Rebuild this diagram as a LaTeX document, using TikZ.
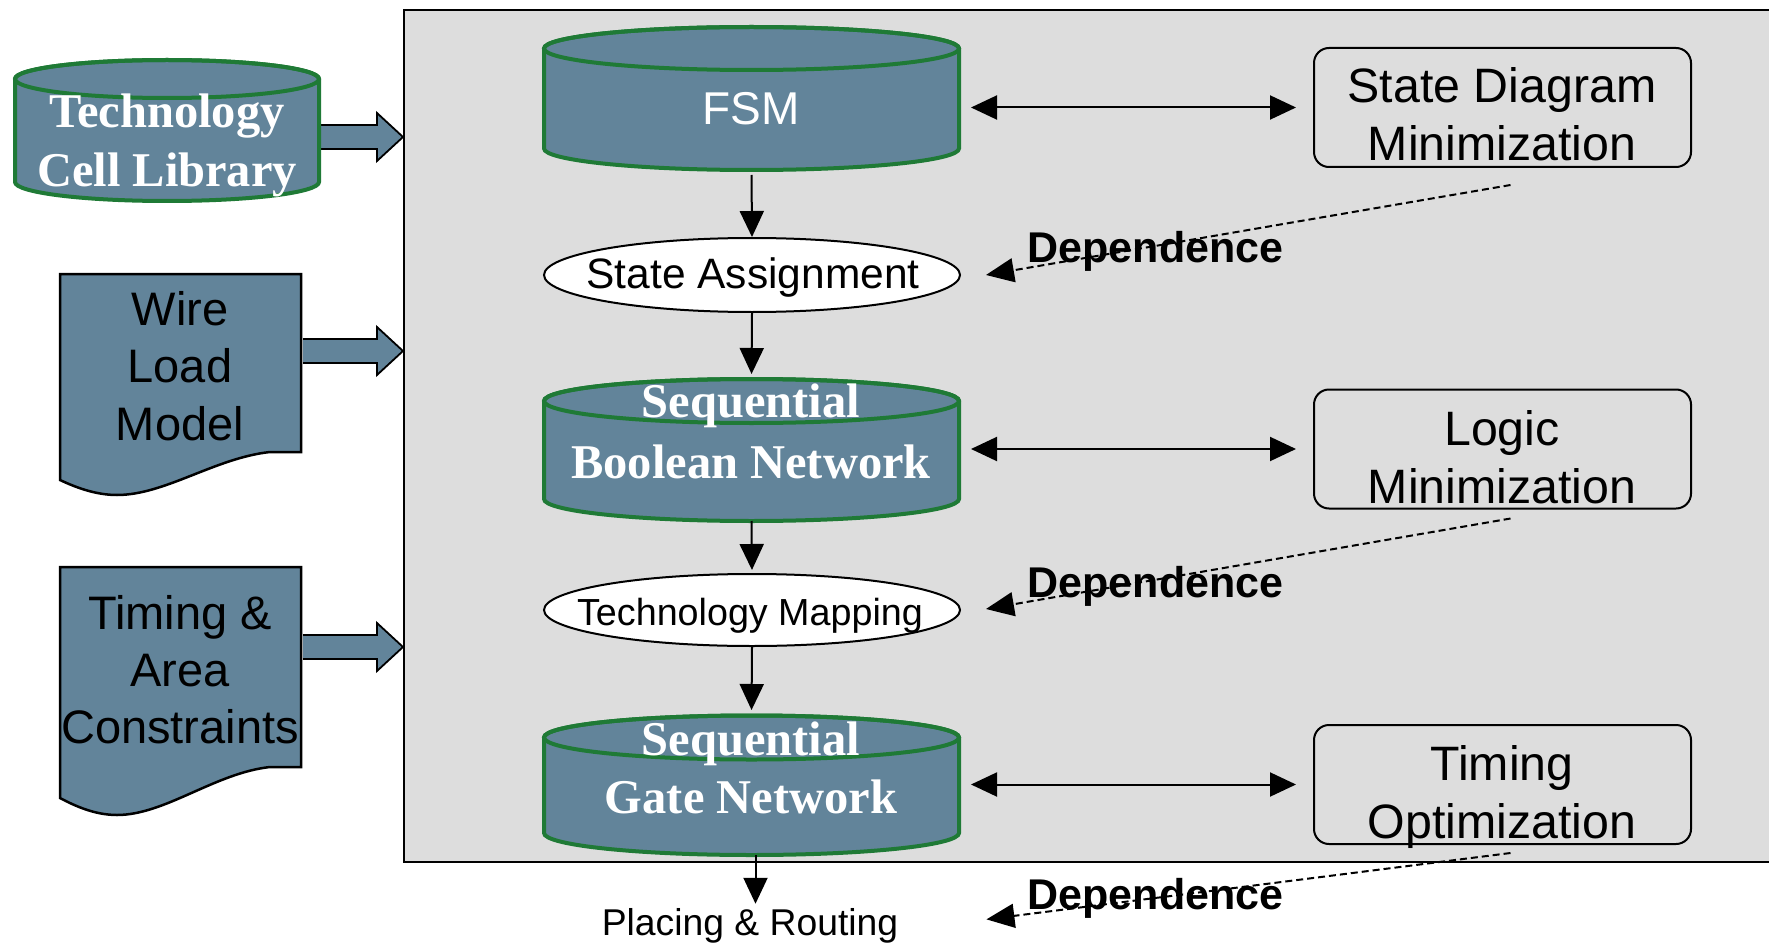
\documentclass[tikz,border=0pt]{standalone}
\usepackage{fontspec}
\setmainfont{Liberation Serif}
\newfontfamily\arial{Liberation Sans}
\usetikzlibrary{arrows.meta,calc,shapes.geometric}
\definecolor{steel}{HTML}{62849A}
\definecolor{cylgreen}{HTML}{1F7A36}
\definecolor{panelgray}{HTML}{DDDDDD}
% cylinder: name, cx, y top ellipse, y bottom ellipse, half width, y radius
\newcommand\mycyl[6]{%
  \path[cylfill] ({#2-#5},#3) -- ({#2-#5},#4) arc[start angle=180,end angle=360,x radius=#5pt,y radius=#6pt]
     -- ({#2+#5},#3) arc[start angle=0,end angle=180,x radius=#5pt,y radius=#6pt] -- cycle;
  \draw[cylline] ({#2},#3) ellipse[x radius=#5pt,y radius=#6pt];
}
% fat arrow: tail coordinate, tip coordinate
\newcommand\fatarr[2]{%
  \fill[steel] let \p1=(#1), \p2=(#2) in
    ({\x1+2pt},{\y1+12pt}) -- ({\x2-26pt},{\y1+12pt}) -- ({\x2-26pt},{\y1+24pt}) -- (\x2,\y1)
    -- ({\x2-26pt},{\y1-24pt}) -- ({\x2-26pt},{\y1-12pt}) -- ({\x1+2pt},{\y1-12pt}) -- cycle;
  \draw[fat] let \p1=(#1), \p2=(#2) in
    ({\x1+2pt},{\y1+12pt}) -- ({\x2-26pt},{\y1+12pt}) -- ({\x2-26pt},{\y1+24pt}) -- (\x2,\y1)
    -- ({\x2-26pt},{\y1-24pt}) -- ({\x2-26pt},{\y1-12pt}) -- ({\x1+2pt},{\y1-12pt});
}
\begin{document}
\begin{tikzpicture}[x=1pt,y=-1pt,
  cylfill/.style={fill=steel, draw=cylgreen, line width=4pt},
  cylline/.style={draw=cylgreen, line width=4pt},
  fat/.style={draw=black, line width=1.8pt, line join=miter},
  docsh/.style={fill=steel, draw=black, line width=2.5pt},
  anchorbox/.style={inner sep=0pt, outer sep=0pt},
  oval/.style={ellipse, draw, fill=white, line width=2pt, inner sep=0pt},
  rbox/.style={draw, rounded corners=15pt, line width=2pt, inner sep=0pt},
  arr/.style={-{Triangle[length=26pt,width=24pt]}, line width=2pt},
  darr/.style={{Triangle[length=26pt,width=24pt]}-{Triangle[length=26pt,width=24pt]}, line width=2pt},
  dep/.style={-{Triangle[length=28pt,width=24pt]}, line width=2pt, dash pattern=on 7pt off 4pt},
  wtimes/.style={text=white, font=\bfseries\fontsize{48.5}{56}\selectfont, anchor=base, inner sep=0pt},
  warial/.style={text=white, font=\arial\fontsize{46}{54}\selectfont, anchor=base, inner sep=0pt},
  txt/.style={font=\arial\fontsize{#1}{#1}\selectfont, anchor=base, inner sep=0pt},
  btxt/.style={font=\arial\bfseries\fontsize{#1}{#1}\selectfont, anchor=base, inner sep=0pt}
]
\fill[white] (0,0) rectangle (1769,944);
\useasboundingbox (0,0) rectangle (1769,944);

% panel
\node[draw, fill=panelgray, line width=2pt, minimum width=1420pt, minimum height=852pt,
      anchor=north west, inner sep=0pt] (panel) at (403,9) {};

% anchor boxes for shapes
\node[anchorbox, minimum width=304pt, minimum height=141pt] (tcl) at (167,130.5) {};
\node[anchorbox, minimum width=241pt, minimum height=221pt] (wlm) at (180.5,384.5) {};
\node[anchorbox, minimum width=241pt, minimum height=248pt] (tac) at (180.5,691) {};
\node[anchorbox, minimum width=415pt, minimum height=143pt] (fsm) at (751.5,98.5) {};
\node[anchorbox, minimum width=415pt, minimum height=142pt] (sbn) at (751.5,450) {};
\node[anchorbox, minimum width=415pt, minimum height=140pt] (sgn) at (751.5,785) {};

% fat arrows into the panel
\coordinate (fa1) at (tcl.east |- 0,137);
\coordinate (fa2) at (wlm.east |- 0,351);
\coordinate (fa3) at (tac.east |- 0,647);
\fatarr{fa1}{panel.west |- fa1}
\fatarr{fa2}{panel.west |- fa2}
\fatarr{fa3}{panel.west |- fa3}

% left inputs
\mycyl{tcl}{167}{79}{182}{152}{19}
\draw[docsh] (60,274) -- (301,274) -- (301,452) -- (270,452) .. controls (215,458) and (165,495) .. (117,495)
   .. controls (95,495) and (75,487) .. (60,480) -- cycle;
\draw[docsh] (60,567) -- (301,567) -- (301,767) -- (270,767) .. controls (215,773) and (165,815) .. (117,815)
   .. controls (95,815) and (75,806) .. (60,798) -- cycle;

% main flow
\mycyl{fsm}{751.5}{48.5}{148.5}{207.5}{21.5}
\mycyl{sbn}{751.5}{401}{499}{207.5}{22}
\mycyl{sgn}{751.5}{737.5}{833}{207.5}{22}
\node[oval, minimum width=416pt, minimum height=74pt] (sa) at (752,275) {};
\node[oval, minimum width=416pt, minimum height=72pt] (tm) at (752,610) {};

% right boxes
\node[rbox, minimum width=377pt, minimum height=119pt] (sdm) at (1502.5,107.5) {};
\node[rbox, minimum width=377pt, minimum height=119pt] (lm) at (1502.5,449) {};
\node[rbox, minimum width=377pt, minimum height=119pt] (topt) at (1502.5,784.5) {};

% texts
\node[wtimes] (tcl-1) at (167,128) {Technology};
\node[wtimes] (tcl-2) at (167,187) {Cell Library};
\node[txt=47] (wlm-1) at (180,325) {Wire};
\node[txt=47] (wlm-2) at (180,382) {Load};
\node[txt=47] (wlm-3) at (180,440) {Model};
\node[txt=47] (tac-1) at (180,629) {Timing \&};
\node[txt=47] (tac-2) at (180,686) {Area};
\node[txt=47] (tac-3) at (180,743) {Constraints};
\node[warial] (fsm-t) at (751,125) {FSM};
\node[txt=42.5] (sa-t) at (753,288) {State Assignment};
\node[wtimes] (sbn-1) at (751,417) {Sequential};
\node[wtimes] (sbn-2) at (751,478) {Boolean Network};
\node[txt=37.7] (tm-t) at (750,625) {Technology Mapping};
\node[wtimes] (sgn-1) at (751,755) {Sequential};
\node[wtimes] (sgn-2) at (751,813) {Gate Network};
\node[txt=37.3] (pr) at (750,935) {Placing \& Routing};
\node[txt=48.3] (sdm-1) at (1502,103) {State Diagram};
\node[txt=48.3] (sdm-2) at (1502,161) {Minimization};
\node[txt=48.3] (lm-1) at (1502,445) {Logic};
\node[txt=48.3] (lm-2) at (1502,503) {Minimization};
\node[txt=48.3] (topt-1) at (1502,780) {Timing};
\node[txt=48.3] (topt-2) at (1502,838) {Optimization};
\node[btxt=43] (dep1) at (1155.5,262) {Dependence};
\node[btxt=43] (dep2) at (1155.5,597) {Dependence};
\node[btxt=43] (dep3) at (1155.5,909) {Dependence};

% flow arrows
\draw[arr, shorten <=5pt] (fsm.south) -- (sa.north);
\draw[arr, shorten >=5pt] (sa.south) -- (sbn.north);
\draw[arr, shorten >=3pt] (sbn.south) -- (tm.north);
\draw[arr, shorten >=5pt] (tm.south) -- (sgn.north);
\draw[arr, shorten >=4pt] ([xshift=4pt]sgn.south) -- ([xshift=4pt]sgn.south |- pr.north);

% double arrows
\draw[darr, shorten <=12pt, shorten >=17pt] (fsm.east |- sdm.west) -- (sdm.west);
\draw[darr, shorten <=12pt, shorten >=17pt] (sbn.east |- lm.west) -- (lm.west);
\draw[darr, shorten <=12pt, shorten >=17pt] (sgn.east |- topt.west) -- (topt.west);

% dependence arrows
\coordinate (d1s) at ($(sdm.south)+(8,17)$);
\coordinate (d2s) at ($(lm.south)+(8,9)$);
\coordinate (d3s) at ($(topt.south)+(8,8)$);
\coordinate (d3e) at ($(pr.east)+(88,-6)$);
\draw[dep] (d1s) -- ($(sa.east)+(25,0)$);
\draw[dep] (d2s) -- ($(tm.east)+(25,-1)$);
\draw[dep] (d3s) -- (d3e);
\end{tikzpicture}
\end{document}
